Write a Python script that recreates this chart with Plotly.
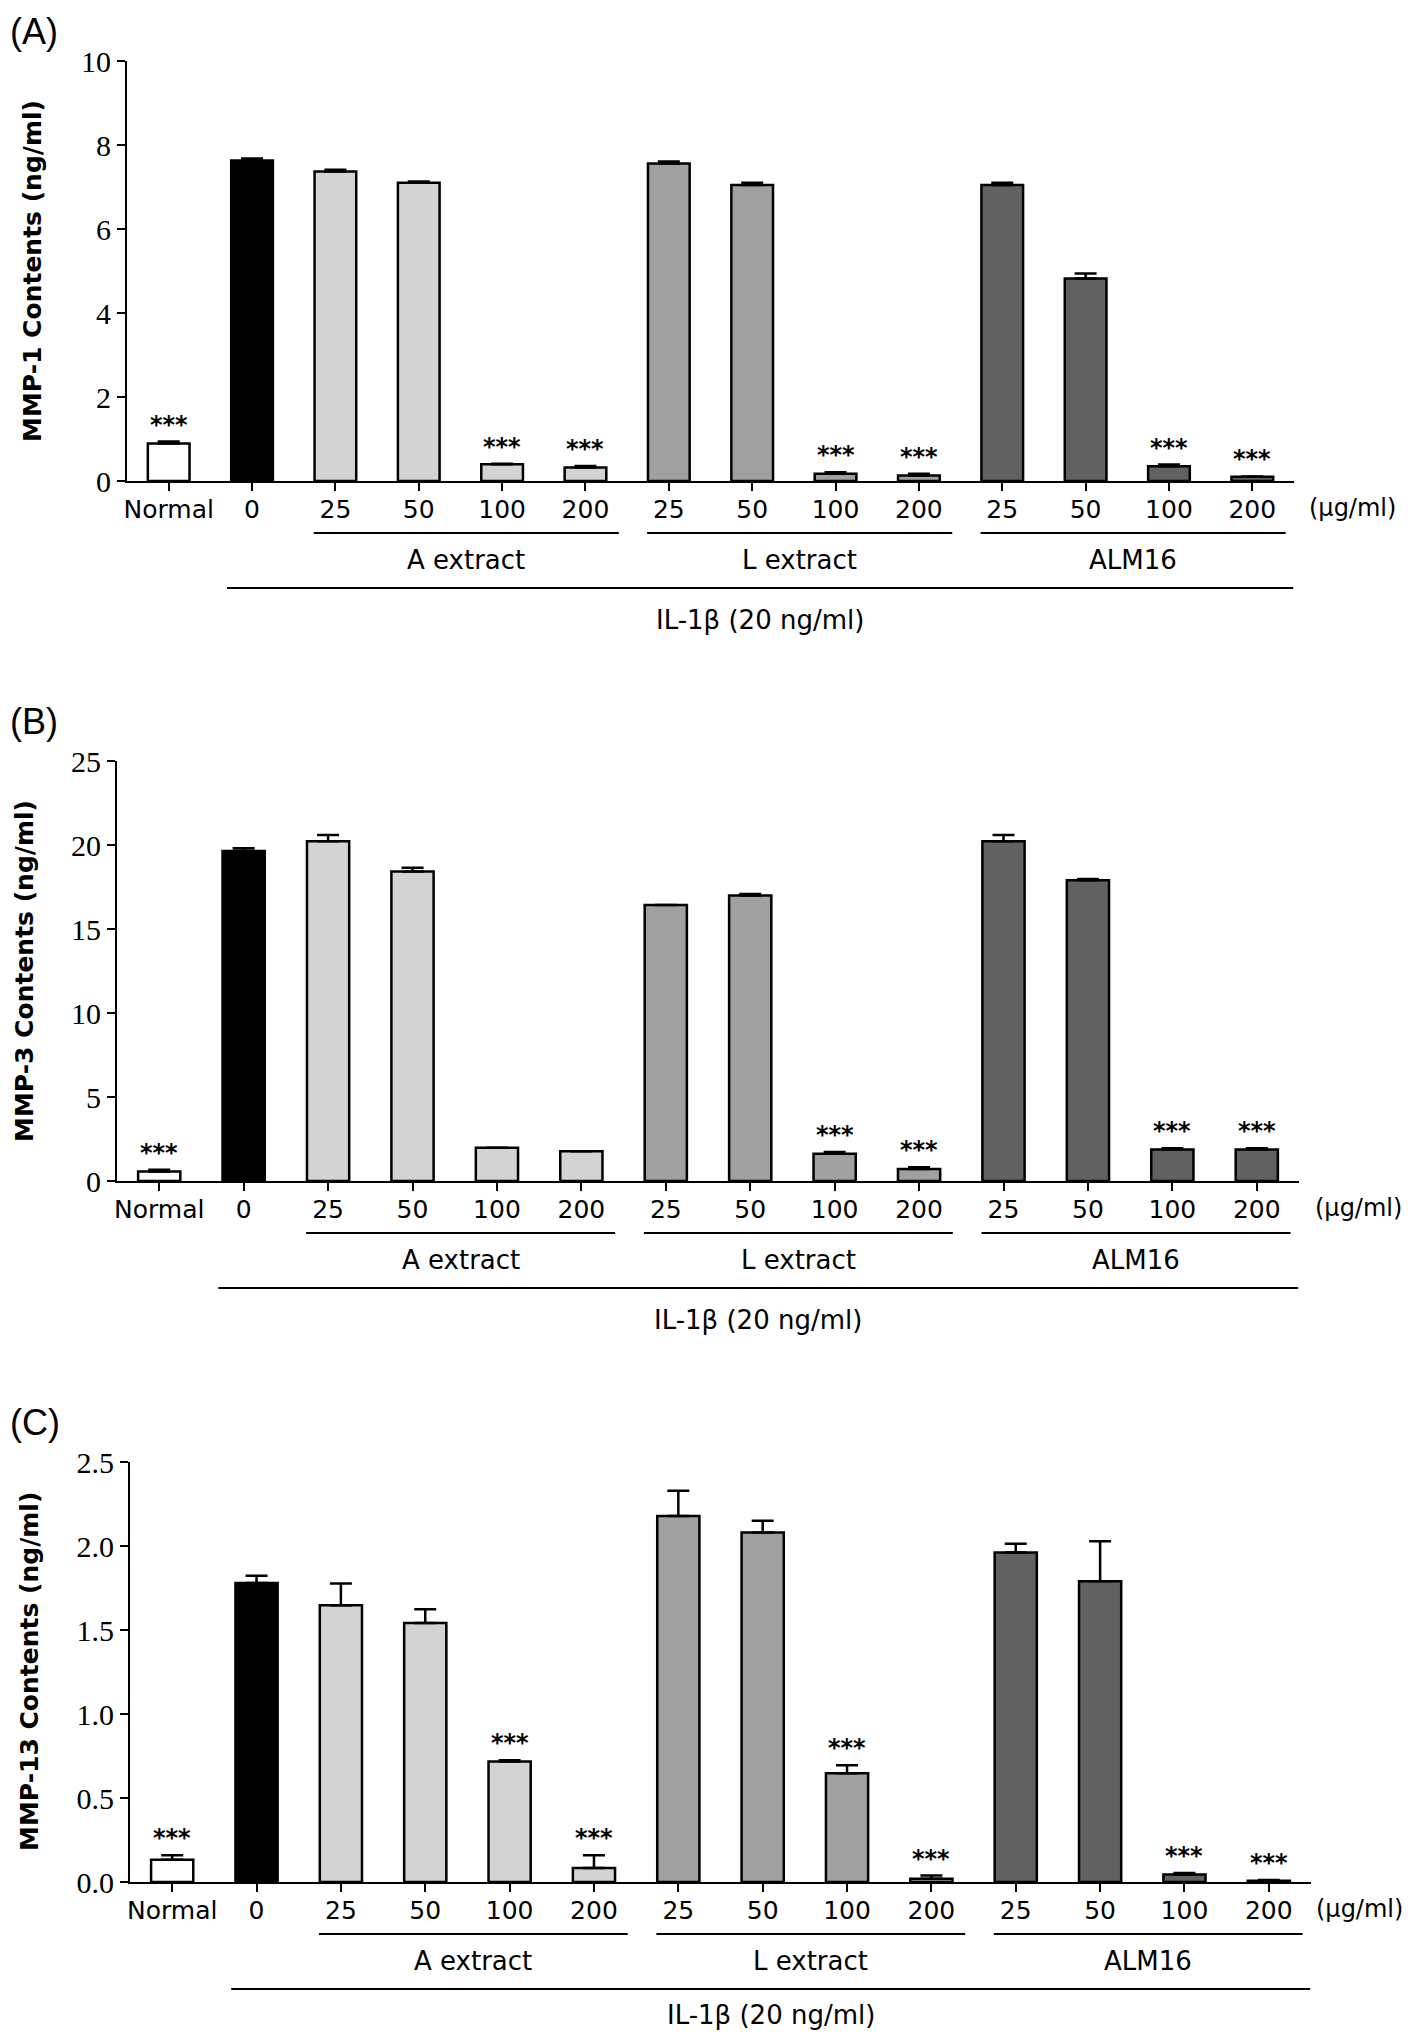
import plotly.graph_objects as go

# ---------------- data ----------------
tick_labels = ["Normal", "0", "25", "50", "100", "200", "25", "50", "100", "200",
               "25", "50", "100", "200"]
positions = list(range(len(tick_labels)))

mmp1_values = [0.89, 7.63, 7.37, 7.10, 0.40, 0.32, 7.56, 7.05, 0.17, 0.13, 7.05, 4.82, 0.35, 0.10]
mmp1_errors = [0.05, 0.05, 0.04, 0.03, 0.01, 0.04, 0.05, 0.05, 0.04, 0.04, 0.05, 0.12, 0.04, 0.01]
mmp1_stars = [True, False, False, False, True, True, False, False, True, True, False, False, True, True]

mmp3_values = [0.57, 19.65, 20.22, 18.42, 1.98, 1.77, 16.43, 17.00, 1.62, 0.72, 20.22, 17.90, 1.88, 1.88]
mmp3_errors = [0.10, 0.15, 0.38, 0.23, 0.0, 0.0, 0.0, 0.08, 0.10, 0.10, 0.38, 0.08, 0.07, 0.07]
mmp3_stars = [True, False, False, False, False, False, False, False, True, True, False, False, True, True]

mmp13_values = [0.133, 1.780, 1.647, 1.541, 0.718, 0.083, 2.178, 2.080, 0.647, 0.020, 1.961, 1.790, 0.045, 0.008]
mmp13_errors = [0.026, 0.043, 0.130, 0.083, 0.007, 0.076, 0.151, 0.070, 0.048, 0.018, 0.053, 0.239, 0.008, 0.004]
mmp13_stars = [True, False, False, False, True, True, False, False, True, True, False, False, True, True]

groups = ["A extract", "L extract", "ALM16"]
group_members = [(2, 5), (6, 9), (10, 13)]
treatment_label = "IL-1\u03b2 (20 ng/ml)"
unit_label = "(\u03bcg/ml)"

panels = [
    dict(tag="(A)", title="MMP-1 Contents (ng/ml)", values=mmp1_values, errors=mmp1_errors,
         stars=mmp1_stars, yrange=[0, 10], dtick=2, fmt="d"),
    dict(tag="(B)", title="MMP-3 Contents (ng/ml)", values=mmp3_values, errors=mmp3_errors,
         stars=mmp3_stars, yrange=[0, 25], dtick=5, fmt="d"),
    dict(tag="(C)", title="MMP-13 Contents (ng/ml)", values=mmp13_values, errors=mmp13_errors,
         stars=mmp13_stars, yrange=[0, 2.5], dtick=0.5, fmt=".1f"),
]

# ---------------- styles / layout ----------------
OFF = 8                      # default page body margin
FW, FH = 1418 - 2 * OFF, 2042 - 2 * OFF
bar_colors = ["#ffffff", "#000000"] + ["#d3d3d3"] * 4 + ["#a0a0a0"] * 4 + ["#616161"] * 4
# pixel boxes in screenshot coordinates: (left, right, top, bottom)
boxes = [(127, 1294, 61, 481), (117, 1299, 761, 1181), (130, 1311, 1462, 1882)]
tag_y = [32, 721, 1422]
title_x = [32, 24, 29]
unit_offset = [1.2, 1.2, 1.08]
treat_shift = [-139, -139, -133]
XR = [-0.5, 13.5]

SANS = "DejaVu Sans"
SERIF = "Liberation Serif"


def px_x(px):
    return (px - OFF) / FW


def px_y(py):
    return 1 - (py - OFF) / FH


def xdom(v):
    return (v - XR[0]) / (XR[1] - XR[0])


fig = go.Figure()
layout = dict(width=FW, height=FH, margin=dict(l=0, r=0, t=0, b=0, autoexpand=False),
              template="none",
              paper_bgcolor="white", plot_bgcolor="white", showlegend=False)
annotations = []
shapes = []

for k, p in enumerate(panels):
    sfx = "" if k == 0 else str(k + 1)
    xa, ya = "x" + sfx, "y" + sfx
    l, r, t, b = boxes[k]
    fig.add_trace(go.Bar(
        x=positions, y=p["values"], xaxis=xa, yaxis=ya, width=0.5,
        marker=dict(color=bar_colors, line=dict(color="black", width=2.5)),
        error_y=dict(type="data", symmetric=False, array=p["errors"],
                     arrayminus=[0] * len(p["errors"]), color="black",
                     thickness=2.5, width=11),
        hoverinfo="skip"))
    layout["xaxis" + sfx] = dict(
        domain=[px_x(l), px_x(r)], anchor=ya, range=XR, automargin=False,
        tickvals=positions, ticktext=tick_labels, ticks="outside", ticklen=8,
        tickwidth=2, tickcolor="black", showline=True, linewidth=2, linecolor="black",
        showgrid=False, zeroline=False, ticklabelstandoff=-3,
        tickfont=dict(family=SANS, size=25, color="black"), fixedrange=True)
    layout["yaxis" + sfx] = dict(
        domain=[px_y(b), px_y(t)], anchor=xa, range=p["yrange"], dtick=p["dtick"],
        tick0=0, tickformat=p["fmt"], ticks="outside", ticklen=8, tickwidth=2,
        tickcolor="black", showline=True, linewidth=2, linecolor="black",
        showgrid=False, zeroline=False, automargin=False,
        tickfont=dict(family=SERIF, size=30, color="black"), fixedrange=True)

    # panel tag
    annotations.append(dict(text=p["tag"], xref="paper", yref="paper", x=0,
                            y=px_y(tag_y[k]), xanchor="left", yanchor="middle",
                            showarrow=False, font=dict(family="Liberation Sans", size=36,
                                                       color="black")))
    # y title
    annotations.append(dict(text=p["title"], xref="paper", yref=ya + " domain",
                            x=px_x(title_x[k]), y=0.5, textangle=-90, xanchor="center",
                            yanchor="middle", showarrow=False,
                            font=dict(family=SANS, size=25, color="black", weight="bold")))
    # stars
    for i, s in enumerate(p["stars"]):
        if s:
            annotations.append(dict(text="***", xref=xa, yref=ya, x=positions[i],
                                    y=p["values"][i] + p["errors"][i], yanchor="bottom",
                                    yshift=1, showarrow=False,
                                    font=dict(family=SANS, size=24, color="black",
                                              weight="bold")))
    # unit label
    annotations.append(dict(text=unit_label, xref=xa + " domain", yref=ya,
                            x=xdom(positions[-1] + unit_offset[k]), y=0, yshift=-27,
                            xanchor="center", yanchor="middle", showarrow=False,
                            font=dict(family=SANS, size=24, color="black")))
    yb = px_y(b)
    # group lines + labels
    for g, (i0, i1) in zip(groups, group_members):
        x0, x1 = positions[i0] - 0.26, positions[i1] + 0.40
        shapes.append(dict(type="line", xref=xa + " domain", yref="paper",
                           x0=xdom(x0), x1=xdom(x1), y0=yb - 52 / FH, y1=yb - 52 / FH,
                           line=dict(color="black", width=2)))
        annotations.append(dict(text=g, xref=xa, yref=ya, x=(x0 + x1) / 2, y=0, yshift=-79,
                                yanchor="middle", showarrow=False,
                                font=dict(family=SANS, size=26, color="black")))
    # treatment line + label
    tx0, tx1 = positions[1] - 0.30, positions[-1] + 0.49
    shapes.append(dict(type="line", xref=xa + " domain", yref="paper",
                       x0=xdom(tx0), x1=xdom(tx1), y0=yb - 107 / FH, y1=yb - 107 / FH,
                       line=dict(color="black", width=2)))
    annotations.append(dict(text=treatment_label, xref=xa, yref=ya, x=(tx0 + tx1) / 2, y=0,
                            yshift=treat_shift[k], yanchor="middle", showarrow=False,
                            font=dict(family=SANS, size=26, color="black")))

layout["annotations"] = annotations
layout["shapes"] = shapes
fig.update_layout(**layout)
fig.write_html("out.html")
